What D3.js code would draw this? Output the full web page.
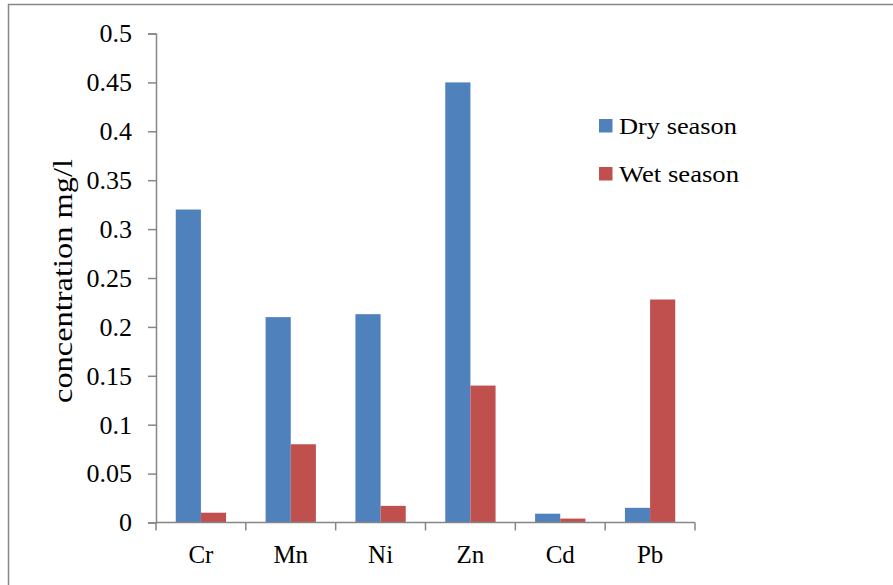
<!DOCTYPE html>
<html>
<head>
<meta charset="utf-8">
<script src="https://cdn.jsdelivr.net/npm/d3@7"></script>
<style>
  html, body { margin: 0; padding: 0; background: #fff; }
  svg { display: block; }
  svg text { font-family: "Liberation Serif", "Times New Roman", Tinos, "DejaVu Serif", serif !important; fill: #000; }
</style>
</head>
<body>
<svg id="chart" width="893" height="585"></svg>
<script>
// Heavy metal concentrations (mg/l) by season
const metals = ["Cr", "Mn", "Ni", "Zn", "Cd", "Pb"];
const drySeason = [0.32, 0.21, 0.213, 0.45, 0.009, 0.015];
const wetSeason = [0.01, 0.08, 0.017, 0.14, 0.004, 0.228];
const seriesNames = ["Dry season", "Wet season"];
const seriesColors = ["#4F81BD", "#C0504D"];
const yTicks = [0, 0.05, 0.1, 0.15, 0.2, 0.25, 0.3, 0.35, 0.4, 0.45, 0.5];

const svg = d3.select("#chart");
const axisColor = "#868686";

// outer chart frame (extends past the right and bottom edges)
svg.append("rect")
  .attr("x", 8.5).attr("y", 4.5)
  .attr("width", 900).attr("height", 600)
  .attr("fill", "none").attr("stroke", axisColor).attr("stroke-width", 1.5);

const plot = { left: 156, right: 695, top: 33.5, bottom: 522.5 };

const x = d3.scaleBand().domain(metals).range([plot.left, plot.right]);
const groupPad = 0.22; // fraction of each band left empty on either side
const x1 = d3.scaleBand().domain(seriesNames)
  .range([x.bandwidth() * groupPad, x.bandwidth() * (1 - groupPad)]);
const y = d3.scaleLinear().domain([0, 0.5]).range([plot.bottom, plot.top]);

// bars
const rows = metals.map((m, i) => ({ metal: m, values: [drySeason[i], wetSeason[i]] }));
const groups = svg.append("g").selectAll("g").data(rows).join("g")
  .attr("transform", d => `translate(${x(d.metal)},0)`);
groups.selectAll("rect")
  .data(d => d.values.map((v, k) => ({ name: seriesNames[k], value: v, color: seriesColors[k] })))
  .join("rect")
  .attr("x", d => x1(d.name))
  .attr("width", x1.bandwidth())
  .attr("y", d => y(d.value))
  .attr("height", d => y(0) - y(d.value))
  .attr("fill", d => d.color);

// y axis
const yAxis = svg.append("g")
  .attr("transform", `translate(${plot.left},0)`)
  .call(d3.axisLeft(y).tickValues(yTicks).tickSize(8).tickPadding(16)
    .tickFormat(d => d3.format("~g")(d)));
yAxis.attr("font-family", null);
yAxis.select(".domain").attr("stroke", axisColor).attr("stroke-width", 1.5);
yAxis.selectAll(".tick line").attr("stroke", axisColor).attr("stroke-width", 1.5);
yAxis.selectAll(".tick text").attr("font-size", 26).attr("fill", "#000");

// x axis with ticks between categories
const xAxisG = svg.append("g").attr("transform", `translate(0,${plot.bottom})`);
xAxisG.append("line")
  .attr("x1", plot.left).attr("x2", plot.right)
  .attr("stroke", axisColor).attr("stroke-width", 1.5);
const boundaries = metals.map(m => x(m)).concat([x(metals[metals.length - 1]) + x.bandwidth()]);
xAxisG.selectAll("line.sep").data(boundaries).join("line").attr("class", "sep")
  .attr("x1", d => d).attr("x2", d => d).attr("y1", 0).attr("y2", 8)
  .attr("stroke", axisColor).attr("stroke-width", 1.5);
xAxisG.selectAll("text").data(metals).join("text")
  .attr("x", d => x(d) + x.bandwidth() / 2)
  .attr("y", 40.5)
  .attr("text-anchor", "middle")
  .attr("font-size", 25)
  .text(d => d);

// y axis title
svg.append("text")
  .attr("transform", "translate(72,281) rotate(-90)")
  .attr("text-anchor", "middle")
  .attr("font-size", 28)
  .attr("textLength", 244)
  .attr("lengthAdjust", "spacingAndGlyphs")
  .text("concentration mg/l");

// legend
const legend = svg.append("g").attr("transform", "translate(599,119)");
const items = legend.selectAll("g").data(seriesNames).join("g")
  .attr("transform", (d, i) => `translate(0,${i * 48})`);
items.append("rect").attr("width", 13.5).attr("height", 13.5)
  .attr("fill", (d, i) => seriesColors[i]);
items.append("text").attr("x", 20).attr("y", 15)
  .attr("font-size", 23)
  .attr("textLength", (d, i) => i === 0 ? 118 : 120)
  .attr("lengthAdjust", "spacingAndGlyphs")
  .text(d => d);
</script>
</body>
</html>
